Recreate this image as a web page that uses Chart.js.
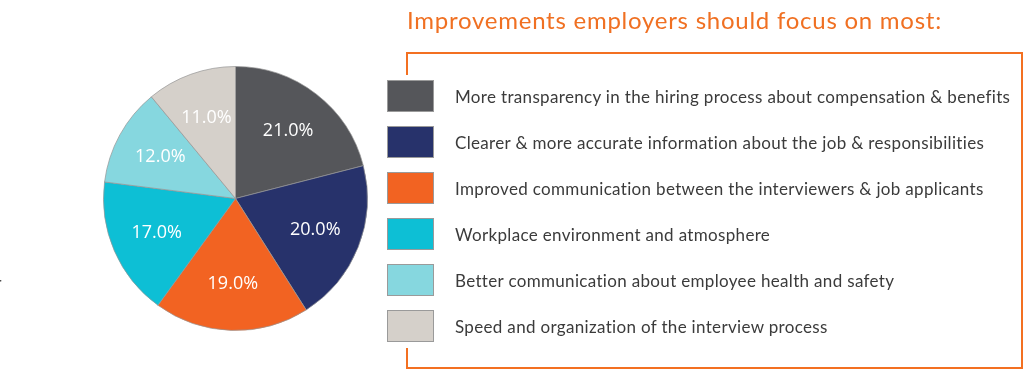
<!DOCTYPE html>
<html>
<head>
<meta charset="utf-8">
<script src="https://cdn.jsdelivr.net/npm/chart.js@4/dist/chart.umd.min.js"></script>
<style>
  html, body { margin: 0; padding: 0; background: #fff; }
  body { width: 1024px; height: 369px; position: relative; overflow: hidden; font-family: "Lato", "Open Sans", sans-serif; }
  #wrap { position: absolute; left: 0; top: 0; width: 1024px; height: 369px; }
  #title { position: absolute; left: 407px; top: 5px; font-size: 24px; color: #f07022; white-space: nowrap; letter-spacing: 0.75px; }
  #box { position: absolute; left: 406px; top: 52px; width: 613px; height: 313px; border: 2px solid #f37021; }
  #cover { position: absolute; left: 398px; top: 75px; width: 20px; height: 273px; background: #fff; }
  .item { position: absolute; left: 387px; height: 32px; }
  .sw { position: absolute; left: 0; top: 0; width: 45px; height: 30px; border: 1px solid #9a9a9a; }
  .lt { position: absolute; left: 68px; top: 6px; font-size: 17px; letter-spacing: 0.33px; color: #3b3b3b; white-space: nowrap; }
  #frag { position: absolute; left: -4px; top: 273px; font-size: 15px; color: #444; }
</style>
</head>
<body>
<div id="wrap">
  <canvas id="c" width="1024" height="369"></canvas>
</div>
<div id="title"></div>
<div id="box"></div>
<div id="cover"></div>
<div id="legend"></div>
<div id="frag">r</div>
<script>
const titleText = "Improvements employers should focus on most:";
const categories = [
  "More transparency in the hiring process about compensation & benefits",
  "Clearer & more accurate information about the job & responsibilities",
  "Improved communication between the interviewers & job applicants",
  "Workplace environment and atmosphere",
  "Better communication about employee health and safety",
  "Speed and organization of the interview process"
];
const values = [21.0, 20.0, 19.0, 17.0, 12.0, 11.0];
const colors = ["#55565a", "#27326b", "#f26322", "#0dbfd5", "#86d7df", "#d5d0ca"];

document.getElementById('title').textContent = titleText;

const legend = document.getElementById('legend');
categories.forEach((cat, i) => {
  const item = document.createElement('div');
  item.className = 'item';
  item.style.top = (80 + i * 46) + 'px';
  const sw = document.createElement('div');
  sw.className = 'sw';
  sw.style.background = colors[i];
  const lt = document.createElement('div');
  lt.className = 'lt';
  lt.textContent = cat;
  item.appendChild(sw);
  item.appendChild(lt);
  legend.appendChild(item);
});

const labelPlugin = {
  id: 'sliceLabels',
  afterDatasetsDraw(chart) {
    const ctx = chart.ctx;
    const meta = chart.getDatasetMeta(0);
    ctx.save();
    ctx.fillStyle = '#ffffff';
    ctx.font = '18px "Open Sans", sans-serif';
    ctx.textAlign = 'center';
    ctx.textBaseline = 'middle';
    meta.data.forEach((arc, i) => {
      const p = arc.getProps(['x', 'y', 'startAngle', 'endAngle', 'outerRadius'], true);
      const mid = (p.startAngle + p.endAngle) / 2;
      const r = p.outerRadius * 0.65;
      ctx.fillText(values[i].toFixed(1) + '%', p.x + Math.cos(mid) * r, p.y + Math.sin(mid) * r);
    });
    ctx.restore();
  }
};

new Chart(document.getElementById('c'), {
  type: 'pie',
  data: {
    labels: categories,
    datasets: [{
      data: values,
      backgroundColor: colors,
      borderColor: 'rgba(150,150,150,0.7)',
      borderWidth: 1
    }]
  },
  options: {
    responsive: false,
    animation: false,
    layout: { padding: { left: 103, right: 656, top: 66, bottom: 38 } },
    plugins: { legend: { display: false }, tooltip: { enabled: false } }
  },
  plugins: [labelPlugin]
});
</script>
</body>
</html>
